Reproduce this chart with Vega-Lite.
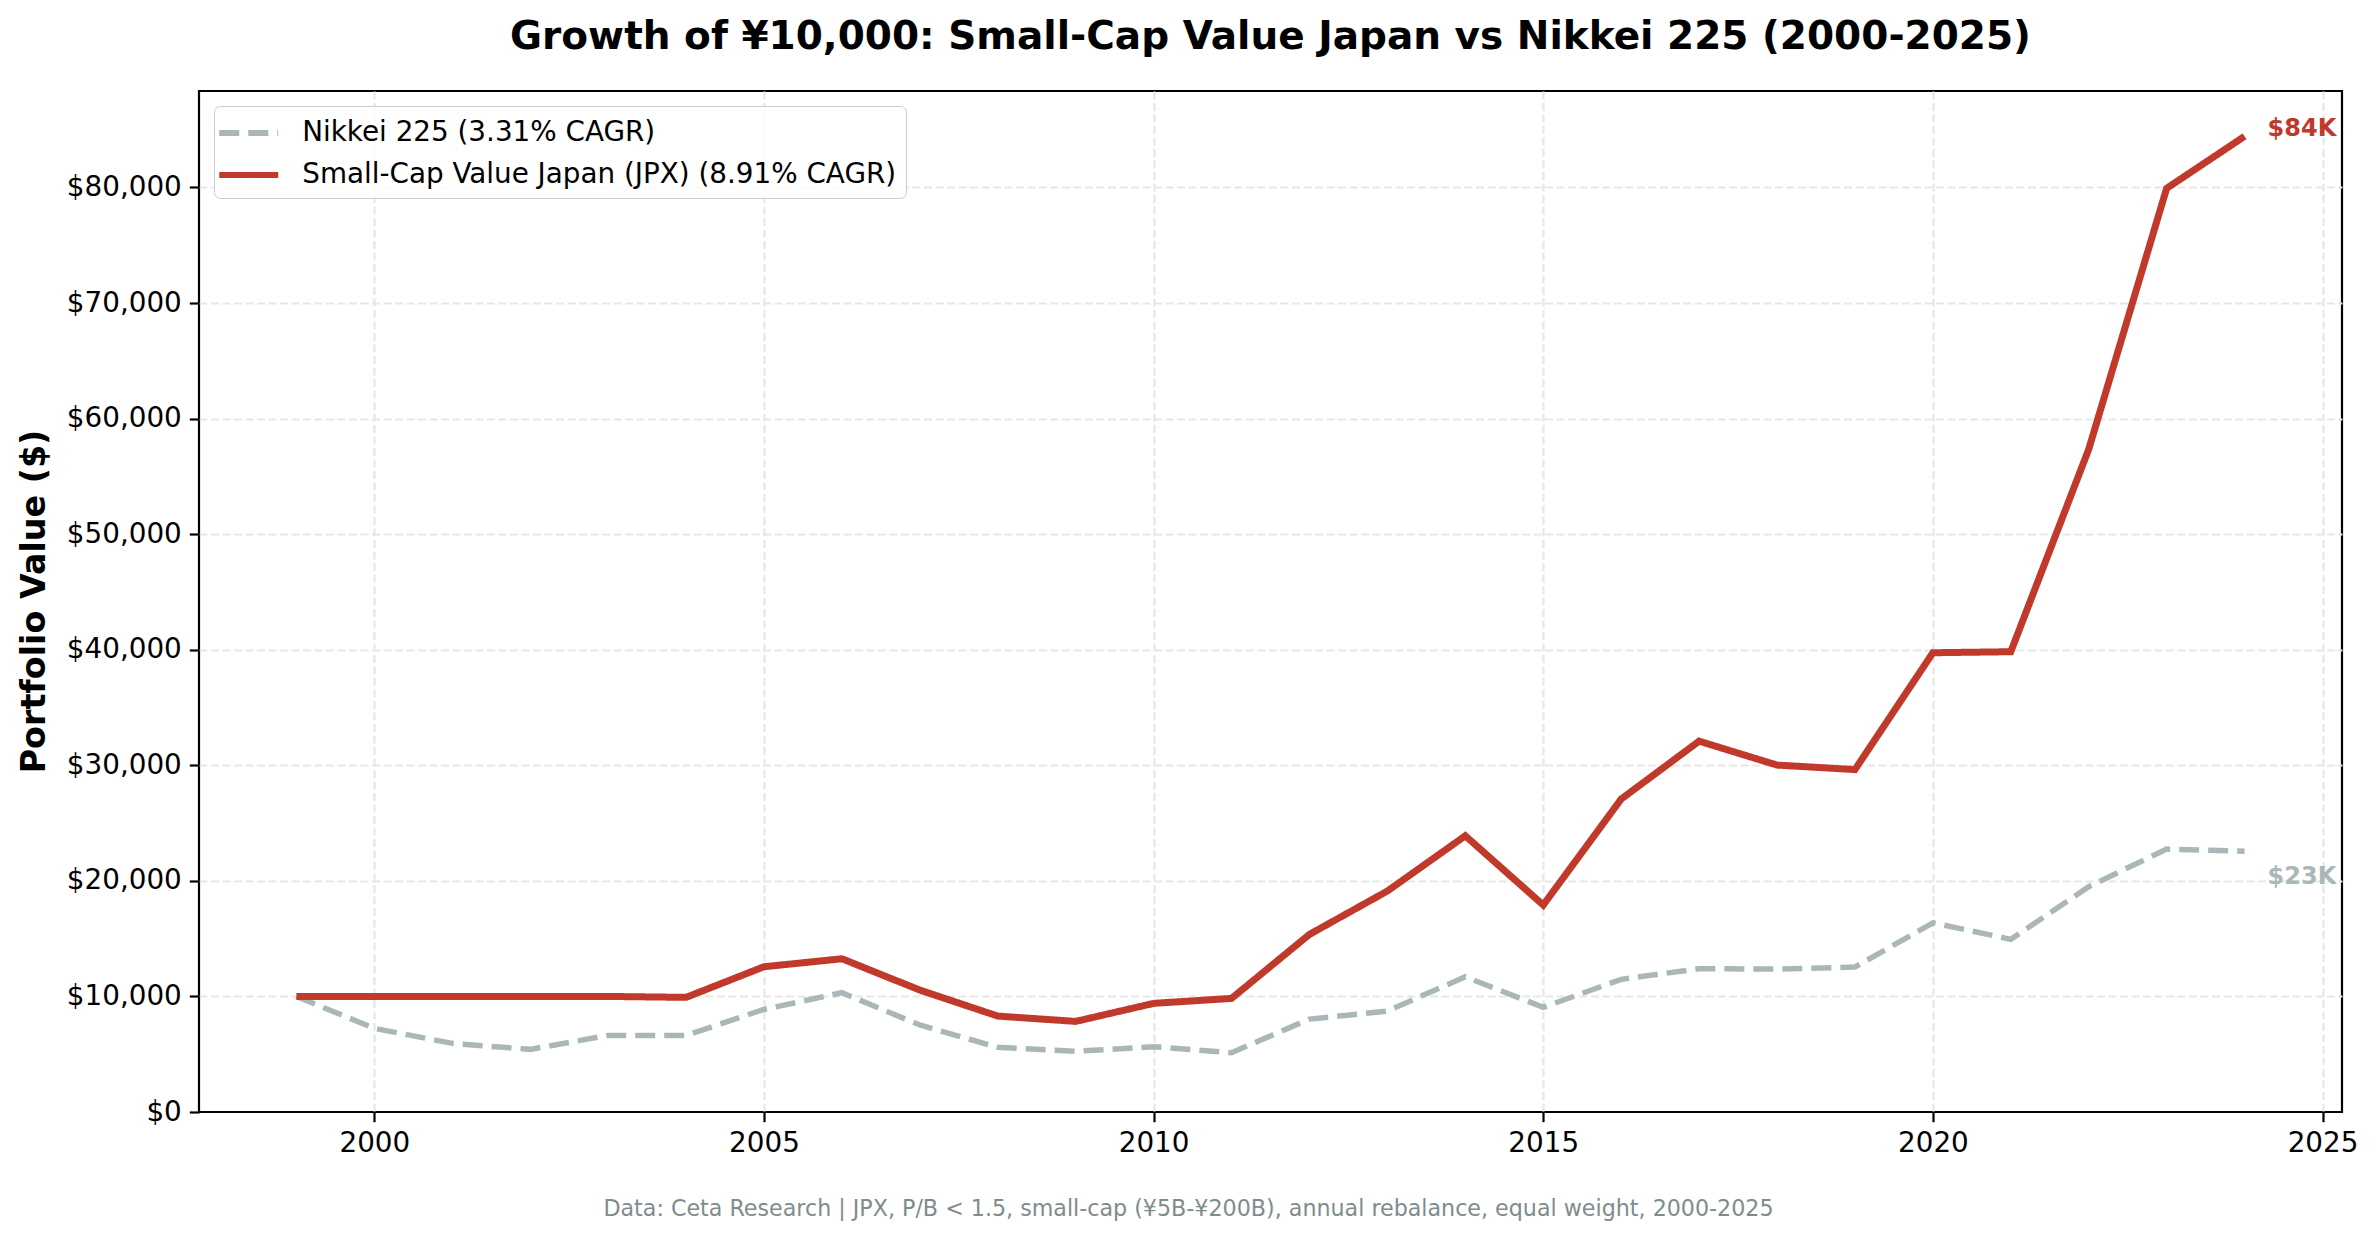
{
  "$schema": "https://vega.github.io/schema/vega-lite/v6.json",
  "width": 2143,
  "height": 1021,
  "autosize": {"type": "none"},
  "padding": {"left": 199, "top": 91, "right": 35, "bottom": 127},
  "background": "white",
  "config": {
    "font": "DejaVu Sans",
    "view": {"stroke": "black", "strokeWidth": 2.2},
    "legend": {
      "orient": "top-left",
      "offset": 15,
      "padding": 9,
      "rowPadding": 10,
      "labelFontSize": 27.8,
      "labelColor": "black",
      "labelOffset": 35.5,
      "labelLimit": 1200,
      "symbolType": "M-2,0L2,0",
      "symbolSize": 870,
      "symbolOffset": 7.75,
      "symbolStrokeWidth": 6,
      "strokeColor": "#cccccc",
      "fillColor": "rgba(255,255,255,0.8)",
      "cornerRadius": 6
    },
    "axis": {
      "domain": false,
      "grid": true,
      "gridColor": "#e7e7e7",
      "gridWidth": 2.2,
      "gridDash": [8, 3.5],
      "tickColor": "black",
      "tickSize": 9.7,
      "tickWidth": 2.2,
      "labelFontSize": 27.8,
      "labelColor": "black",
      "labelPadding": 8
    }
  },
  "title": {
    "text": "Growth of ¥10,000: Small-Cap Value Japan vs Nikkei 225 (2000-2025)",
    "fontSize": 39,
    "fontWeight": "bold",
    "color": "black",
    "anchor": "middle",
    "baseline": "alphabetic",
    "offset": 3
  },
  "data": {
    "values": [
      {"year": 1999, "series": "Nikkei 225 (3.31% CAGR)", "value": 10000},
      {"year": 2000, "series": "Nikkei 225 (3.31% CAGR)", "value": 7240},
      {"year": 2001, "series": "Nikkei 225 (3.31% CAGR)", "value": 5940},
      {"year": 2002, "series": "Nikkei 225 (3.31% CAGR)", "value": 5420},
      {"year": 2003, "series": "Nikkei 225 (3.31% CAGR)", "value": 6630},
      {"year": 2004, "series": "Nikkei 225 (3.31% CAGR)", "value": 6630},
      {"year": 2005, "series": "Nikkei 225 (3.31% CAGR)", "value": 8880},
      {"year": 2006, "series": "Nikkei 225 (3.31% CAGR)", "value": 10320},
      {"year": 2007, "series": "Nikkei 225 (3.31% CAGR)", "value": 7530},
      {"year": 2008, "series": "Nikkei 225 (3.31% CAGR)", "value": 5600},
      {"year": 2009, "series": "Nikkei 225 (3.31% CAGR)", "value": 5250},
      {"year": 2010, "series": "Nikkei 225 (3.31% CAGR)", "value": 5650},
      {"year": 2011, "series": "Nikkei 225 (3.31% CAGR)", "value": 5130},
      {"year": 2012, "series": "Nikkei 225 (3.31% CAGR)", "value": 8040},
      {"year": 2013, "series": "Nikkei 225 (3.31% CAGR)", "value": 8740},
      {"year": 2014, "series": "Nikkei 225 (3.31% CAGR)", "value": 11700},
      {"year": 2015, "series": "Nikkei 225 (3.31% CAGR)", "value": 9060},
      {"year": 2016, "series": "Nikkei 225 (3.31% CAGR)", "value": 11480},
      {"year": 2017, "series": "Nikkei 225 (3.31% CAGR)", "value": 12400},
      {"year": 2018, "series": "Nikkei 225 (3.31% CAGR)", "value": 12370},
      {"year": 2019, "series": "Nikkei 225 (3.31% CAGR)", "value": 12540},
      {"year": 2020, "series": "Nikkei 225 (3.31% CAGR)", "value": 16370},
      {"year": 2021, "series": "Nikkei 225 (3.31% CAGR)", "value": 14940},
      {"year": 2022, "series": "Nikkei 225 (3.31% CAGR)", "value": 19500},
      {"year": 2023, "series": "Nikkei 225 (3.31% CAGR)", "value": 22750},
      {"year": 2024, "series": "Nikkei 225 (3.31% CAGR)", "value": 22560},
      {"year": 1999, "series": "Small-Cap Value Japan (JPX) (8.91% CAGR)", "value": 10000},
      {"year": 2000, "series": "Small-Cap Value Japan (JPX) (8.91% CAGR)", "value": 10000},
      {"year": 2001, "series": "Small-Cap Value Japan (JPX) (8.91% CAGR)", "value": 10000},
      {"year": 2002, "series": "Small-Cap Value Japan (JPX) (8.91% CAGR)", "value": 10000},
      {"year": 2003, "series": "Small-Cap Value Japan (JPX) (8.91% CAGR)", "value": 10000},
      {"year": 2004, "series": "Small-Cap Value Japan (JPX) (8.91% CAGR)", "value": 9920},
      {"year": 2005, "series": "Small-Cap Value Japan (JPX) (8.91% CAGR)", "value": 12570},
      {"year": 2006, "series": "Small-Cap Value Japan (JPX) (8.91% CAGR)", "value": 13260},
      {"year": 2007, "series": "Small-Cap Value Japan (JPX) (8.91% CAGR)", "value": 10550},
      {"year": 2008, "series": "Small-Cap Value Japan (JPX) (8.91% CAGR)", "value": 8300},
      {"year": 2009, "series": "Small-Cap Value Japan (JPX) (8.91% CAGR)", "value": 7840},
      {"year": 2010, "series": "Small-Cap Value Japan (JPX) (8.91% CAGR)", "value": 9400},
      {"year": 2011, "series": "Small-Cap Value Japan (JPX) (8.91% CAGR)", "value": 9830},
      {"year": 2012, "series": "Small-Cap Value Japan (JPX) (8.91% CAGR)", "value": 15370},
      {"year": 2013, "series": "Small-Cap Value Japan (JPX) (8.91% CAGR)", "value": 19120},
      {"year": 2014, "series": "Small-Cap Value Japan (JPX) (8.91% CAGR)", "value": 23900},
      {"year": 2015, "series": "Small-Cap Value Japan (JPX) (8.91% CAGR)", "value": 17910},
      {"year": 2016, "series": "Small-Cap Value Japan (JPX) (8.91% CAGR)", "value": 27080},
      {"year": 2017, "series": "Small-Cap Value Japan (JPX) (8.91% CAGR)", "value": 32090},
      {"year": 2018, "series": "Small-Cap Value Japan (JPX) (8.91% CAGR)", "value": 30020},
      {"year": 2019, "series": "Small-Cap Value Japan (JPX) (8.91% CAGR)", "value": 29630},
      {"year": 2020, "series": "Small-Cap Value Japan (JPX) (8.91% CAGR)", "value": 39740},
      {"year": 2021, "series": "Small-Cap Value Japan (JPX) (8.91% CAGR)", "value": 39830},
      {"year": 2022, "series": "Small-Cap Value Japan (JPX) (8.91% CAGR)", "value": 57350},
      {"year": 2023, "series": "Small-Cap Value Japan (JPX) (8.91% CAGR)", "value": 79930},
      {"year": 2024, "series": "Small-Cap Value Japan (JPX) (8.91% CAGR)", "value": 84430}
    ]
  },
  "encoding": {
    "x": {
      "field": "year",
      "type": "quantitative",
      "scale": {"domain": [1997.75, 2025.25], "nice": false, "zero": false},
      "axis": {
        "values": [2000, 2005, 2010, 2015, 2020, 2025],
        "format": "d",
        "title": "Data: Ceta Research | JPX, P/B < 1.5, small-cap (¥5B-¥200B), annual rebalance, equal weight, 2000-2025",
        "titleFontSize": 22.2,
        "titleFontWeight": "normal",
        "titleColor": "#7f8c8d",
        "titleX": 989,
        "titleY": 103,
        "titleAlign": "center",
        "titleBaseline": "alphabetic"
      }
    },
    "y": {
      "field": "value",
      "type": "quantitative",
      "scale": {"domain": [0, 88350], "nice": false},
      "axis": {
        "values": [0, 10000, 20000, 30000, 40000, 50000, 60000, 70000, 80000],
        "format": "$,.0f",
        "gridOpacity": {"condition": {"test": "datum.value === 0", "value": 0}, "value": 1},
        "title": "Portfolio Value ($)",
        "titleFontSize": 33.3,
        "titleFontWeight": "bold",
        "titleColor": "black",
        "titleX": -165,
        "titleY": 510,
        "titleAngle": -90,
        "titleAlign": "center",
        "titleBaseline": "middle"
      }
    }
  },
  "layer": [
    {
      "transform": [{"filter": "datum.series === 'Nikkei 225 (3.31% CAGR)'"}],
      "mark": {"type": "line", "strokeWidth": 5.5},
      "encoding": {
        "color": {
          "field": "series",
          "type": "nominal",
          "scale": {
            "domain": ["Nikkei 225 (3.31% CAGR)", "Small-Cap Value Japan (JPX) (8.91% CAGR)"],
            "range": ["#aab7b8", "#c0392b"]
          },
          "legend": {"title": null}
        },
        "strokeDash": {
          "field": "series",
          "type": "nominal",
          "scale": {
            "domain": ["Nikkei 225 (3.31% CAGR)", "Small-Cap Value Japan (JPX) (8.91% CAGR)"],
            "range": [[20, 9], [1, 0]]
          },
          "legend": {"title": null}
        }
      }
    },
    {
      "transform": [{"filter": "datum.series === 'Small-Cap Value Japan (JPX) (8.91% CAGR)'"}],
      "mark": {"type": "line", "strokeWidth": 7},
      "encoding": {
        "color": {"field": "series", "type": "nominal"},
        "strokeDash": {"field": "series", "type": "nominal"}
      }
    },
    {
      "data": {"values": [{"year": 2024, "value": 84430, "label": "$84K"}]},
      "mark": {"type": "text", "align": "left", "baseline": "middle", "dx": 23, "dy": -7, "fontSize": 24, "fontWeight": "bold", "color": "#c0392b"},
      "encoding": {"text": {"field": "label"}}
    },
    {
      "data": {"values": [{"year": 2024, "value": 22560, "label": "$23K"}]},
      "mark": {"type": "text", "align": "left", "baseline": "middle", "dx": 23, "dy": 26, "fontSize": 24, "fontWeight": "bold", "color": "#aab7b8"},
      "encoding": {"text": {"field": "label"}}
    }
  ]
}
